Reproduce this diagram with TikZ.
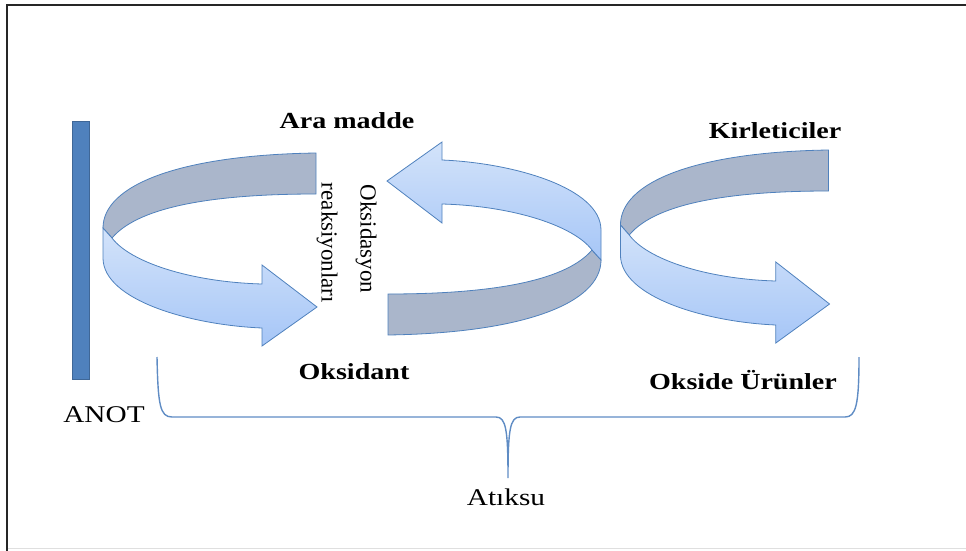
\documentclass[tikz,border=0pt]{standalone}
\usepackage{fontspec}
\setmainfont{Liberation Serif}
\newfontfamily\genisfont{Liberation Serif}[FakeStretch=1.22, BoldFont={Liberation Serif Bold}]

\definecolor{anotmavi}{HTML}{4F81BD}
\definecolor{bordo}{HTML}{4F81BD}
\definecolor{grigio}{HTML}{AAB6CB}
\definecolor{chiaro}{HTML}{D3E3FA}
\definecolor{scuro}{HTML}{A6C6F7}
\definecolor{parentesi}{HTML}{5F8CC4}

\tikzset{
  etiket/.style={inner sep=0pt, font=\genisfont\fontsize{24}{27}\selectfont},
  kalin/.style={inner sep=0pt, font=\genisfont\bfseries\fontsize{23}{26}\selectfont},
  dikey/.style={inner sep=0pt, rotate=-90, font=\fontsize{23}{26}\selectfont},
  pics/nastro/.style={code={
    % parte posteriore (grigia)
    \filldraw[fill=grigio, draw=bordo, line width=0.8pt]
      (106,-97) .. controls (-30,-95) and (-107,-65) .. (-107,-22)
      -- (-98,-12) .. controls (-70,-45) and (10,-56) .. (106,-56) -- cycle;
    % parte anteriore con la punta
    \path[draw=bordo, line width=0.8pt, top color=chiaro, bottom color=scuro]
      (-107,-22) -- (-107,8) .. controls (-107,50) and (-20,75) .. (52,78)
      -- (52,96) -- (107,57) -- (52,15) -- (52,34)
      .. controls (-20,32) and (-80,12) .. (-98,-12) -- cycle;
  }}
}

\begin{document}
\begin{tikzpicture}[x=1pt, y=-1pt]

        % 1. Cornice
        \useasboundingbox (0,0) rectangle (966,551);
        \draw[gray!25] (7,548) -- (966,548);
        \draw[line width=2pt, black!85] (966,5) -- (7,5) -- (7,551);

        % 2. Anot (barra verticale)
        \filldraw[fill=anotmavi, draw=anotmavi!80!black, line width=0.6pt] (72,121) rectangle (89,379);

        % 3. Le tre frecce curve
        \pic at (210,250) {nastro};
        \pic[rotate=180] at (494,238) {nastro};
        \pic[xscale=0.977] at (725,247) {nastro};

        % 4. Etichette
        \node[kalin] (ara) at (347,121) {Ara madde};
        \node[kalin] (oksidant) at (354,372) {Oksidant};
        \node[kalin] (kirletici) at (775,131) {Kirleticiler};
        \node[kalin] (urunler) at (743,380) {Okside Ürünler};
        \node[etiket] (anot) at (104,415) {ANOT};
        \node[etiket] (atiksu) at (506,497) {Atıksu};
        \node[dikey] (oksidasyon) at (366,239) {Oksidasyon};
        \node[dikey] (reaksiyon) at (327,243) {reaksiyonları};

        % 5. Parentesi graffa sotto
        \coordinate (punta) at (508,478);
        \draw[parentesi, line width=1.4pt]
          (157,357) .. controls (158,405) and (160,417) .. (172,417) -- (496,417)
          .. controls (506,417) and (508,430) .. (punta)
          .. controls (508,430) and (510,417) .. (520,417) -- (845,417)
          .. controls (856,417) and (859,405) .. (859,357);

    \end{tikzpicture}
\end{document}
